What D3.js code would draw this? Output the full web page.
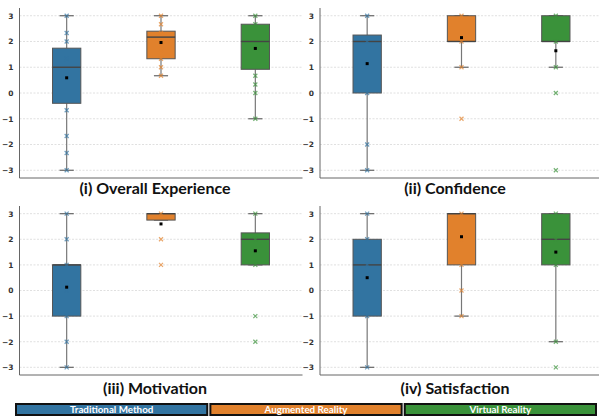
<!DOCTYPE html>
<html>
<head>
<meta charset="utf-8">
<script src="https://cdn.jsdelivr.net/npm/d3@7"></script>
<style>
  body { margin: 0; background: #fff; }
  svg { display: block; }
</style>
</head>
<body>
<svg id="chart" width="599" height="416"></svg>
<script>
const categories = ['Traditional Method', 'Augmented Reality', 'Virtual Reality'];
const panelTitles = ['(i) Overall Experience', '(ii) Confidence', '(iii) Motivation', '(iv) Satisfaction'];
const yTicks = [-3, -2, -1, 0, 1, 2, 3];

// box stats per group: [whiskerLow, q1, median, q3, whiskerHigh, mean]
const overallBoxes = [[-3, -0.4, 1, 1.74, 3, 0.59], [0.67, 1.33, 2.17, 2.4, 3, 1.96], [-1, 0.92, 2, 2.67, 3, 1.73]];
const confidenceBoxes = [[-3, 0, 2, 2.25, 3, 1.14], [1, 2, 2, 3, 3, 2.15], [1, 2, 2, 3, 3, 1.64]];
const motivationBoxes = [[-3, -1, 1, 1, 3, 0.13], [2.75, 2.75, 3, 3, 3, 2.6], [1, 1, 2, 2.25, 3, 1.55]];
const satisfactionBoxes = [[-3, -1, 1, 2, 3, 0.5], [-1, 1, 3, 3, 3, 2.1], [-2, 1, 2, 3, 3, 1.5]];

// individual responses shown as x markers
const overallPoints = [[3, 2.33, 2, 1.33, -0.67, -1.67, -2.33, -3], [3, 2.67, 2.33, 2, 1.67, 1.33, 1, 0.67], [3, 2.67, 0.67, 0.33, 0, -1]];
const confidencePoints = [[3, 2, 1, 0, -2, -3], [3, 2, 1, -1], [3, 2, 1, 0, -3]];
const motivationPoints = [[3, 2, 1, 0, -1, -2, -3], [3, 2, 1], [3, 2, 1, -1, -2]];
const satisfactionPoints = [[3, 2, 1, -1, -3], [3, 2, 1, 0, -1], [3, 2, 1, -2, -3]];

const colors = ['#3274a1', '#e1812c', '#3a923a'];

const panels = [
  { boxes: overallBoxes, points: overallPoints, left: 19.5, right: 302.5, top: 8, bottom: 178, titleX: 155, titleY: 194 },
  { boxes: confidenceBoxes, points: confidencePoints, left: 320, right: 603, top: 8, bottom: 178, titleX: 455, titleY: 194 },
  { boxes: motivationBoxes, points: motivationPoints, left: 19.5, right: 302.5, top: 206, bottom: 375, titleX: 155, titleY: 394 },
  { boxes: satisfactionBoxes, points: satisfactionPoints, left: 320, right: 603, top: 206, bottom: 375, titleX: 455, titleY: 394 }
];

const svg = d3.select('#chart');

panels.forEach((p, pi) => {
  const x = d3.scaleBand().domain(categories).range([p.left, p.right]);
  const y = d3.scaleLinear().domain([-3.3, 3.3]).range([p.bottom, p.top]);
  const g = svg.append('g');
  const bw = x.bandwidth() * 0.3;

  // grid
  g.append('g')
    .selectAll('line')
    .data(yTicks)
    .join('line')
    .attr('x1', p.left)
    .attr('x2', p.right)
    .attr('y1', d => y(d))
    .attr('y2', d => y(d))
    .attr('stroke', '#d8d8d8')
    .attr('stroke-width', 0.8)
    .attr('stroke-dasharray', '2,1.5');

  // y axis
  const axis = g.append('g')
    .attr('transform', `translate(${p.left},0)`)
    .call(d3.axisLeft(y).tickValues(yTicks).tickSize(0).tickPadding(6).tickFormat(d3.format('d')));
  axis.select('.domain').remove();
  axis.selectAll('text')
    .attr('font-family', 'DejaVu Sans')
    .attr('font-weight', 'bold')
    .attr('font-size', 7.5)
    .attr('fill', '#333');

  // spines
  g.append('line')
    .attr('x1', p.left).attr('x2', p.left)
    .attr('y1', p.top).attr('y2', p.bottom)
    .attr('stroke', '#666').attr('stroke-width', 1);
  g.append('line')
    .attr('x1', p.left).attr('x2', p.right)
    .attr('y1', p.bottom).attr('y2', p.bottom)
    .attr('stroke', '#666').attr('stroke-width', 1);

  const grp = g.selectAll('g.box')
    .data(p.boxes.map((b, i) => ({ b, cat: categories[i], color: colors[i], pts: p.points[i] })))
    .join('g')
    .attr('class', 'box')
    .attr('transform', d => `translate(${x(d.cat) + x.bandwidth() / 2},0)`);

  // whiskers
  grp.append('line')
    .attr('y1', d => y(d.b[0])).attr('y2', d => y(d.b[1]))
    .attr('stroke', '#777').attr('stroke-width', 1.2);
  grp.append('line')
    .attr('y1', d => y(d.b[3])).attr('y2', d => y(d.b[4]))
    .attr('stroke', '#777').attr('stroke-width', 1.2);
  grp.selectAll('line.cap')
    .data(d => [d.b[0], d.b[4]])
    .join('line')
    .attr('class', 'cap')
    .attr('x1', -bw / 4).attr('x2', bw / 4)
    .attr('y1', v => y(v)).attr('y2', v => y(v))
    .attr('stroke', '#666').attr('stroke-width', 1.2);

  // box
  grp.append('rect')
    .attr('x', -bw / 2)
    .attr('width', bw)
    .attr('y', d => y(d.b[3]))
    .attr('height', d => Math.max(0.5, y(d.b[1]) - y(d.b[3])))
    .attr('fill', d => d.color)
    .attr('stroke', '#555')
    .attr('stroke-width', 1);

  // median
  grp.append('line')
    .attr('x1', -bw / 2).attr('x2', bw / 2)
    .attr('y1', d => y(d.b[2])).attr('y2', d => y(d.b[2]))
    .attr('stroke', '#444').attr('stroke-width', 1.4);

  // points
  const sz = 2;
  grp.selectAll('path.pt')
    .data(d => d.pts.map(v => ({ v, color: d.color })))
    .join('path')
    .attr('class', 'pt')
    .attr('d', d => {
      const cy = y(d.v);
      return `M${-sz},${cy - sz}L${sz},${cy + sz}M${-sz},${cy + sz}L${sz},${cy - sz}`;
    })
    .attr('stroke', d => d.color)
    .attr('stroke-width', 1.2)
    .attr('stroke-opacity', 0.7)
    .attr('fill', 'none');

  // mean
  grp.append('rect')
    .attr('x', -1.5)
    .attr('y', d => y(d.b[5]) - 1.5)
    .attr('width', 3)
    .attr('height', 3)
    .attr('fill', '#000');

  // title
  svg.append('text')
    .attr('x', p.titleX)
    .attr('y', p.titleY)
    .attr('text-anchor', 'middle')
    .attr('font-family', 'Lato')
    .attr('font-weight', 'bold')
    .attr('font-size', 16)
    .attr('fill', '#111')
    .text(panelTitles[pi]);
});

// legend bar
const lx = d3.scaleBand().domain(categories).range([16, 596]).paddingInner(0.016).paddingOuter(0);
const legend = svg.append('g')
  .selectAll('g')
  .data(categories)
  .join('g');
legend.append('rect')
  .attr('x', d => lx(d))
  .attr('y', 404)
  .attr('width', lx.bandwidth())
  .attr('height', 11)
  .attr('fill', (d, i) => colors[i])
  .attr('stroke', '#111')
  .attr('stroke-width', 2);
legend.append('text')
  .attr('x', d => lx(d) + lx.bandwidth() / 2)
  .attr('y', 413)
  .attr('text-anchor', 'middle')
  .attr('font-family', 'Lato')
  .attr('font-weight', 'bold')
  .attr('font-size', 9.8)
  .attr('fill', '#fff')
  .text(d => d);
</script>
</body>
</html>
